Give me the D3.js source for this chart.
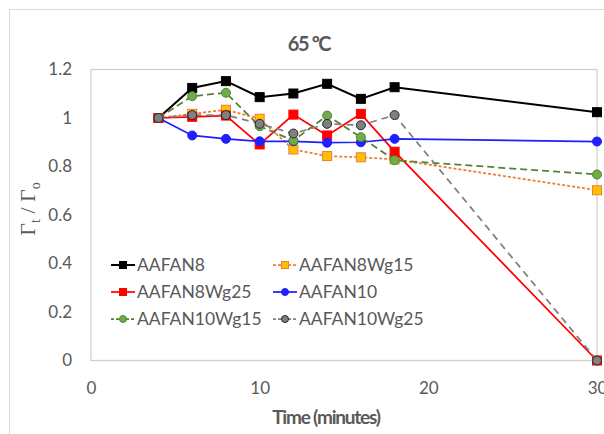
<!DOCTYPE html>
<html>
<head>
<meta charset="utf-8">
<script src="https://cdn.jsdelivr.net/npm/d3@7"></script>
<style>
  html, body { margin: 0; padding: 0; background: #fff; }
  svg { display: block; }
</style>
</head>
<body>
<svg id="chart" width="604" height="434"></svg>
<script>
// Sampling times (minutes)
const times = [4, 6, 8, 10, 12, 14, 16, 18, 30];

// Normalised surface concentration Γt/Γo for each formulation
const seriesNames = ["AAFAN8", "AAFAN8Wg15", "AAFAN8Wg25", "AAFAN10", "AAFAN10Wg15", "AAFAN10Wg25"];
const aafan8      = [1.0, 1.124, 1.152, 1.086, 1.101, 1.141, 1.079, 1.127, 1.024];
const aafan8Wg15  = [1.0, 1.017, 1.034, 0.997, 0.870, 0.843, 0.838, 0.829, 0.702];
const aafan8Wg25  = [1.0, 1.005, 1.010, 0.891, 1.014, 0.928, 1.017, 0.861, 0.0];
const aafan10     = [1.0, 0.928, 0.914, 0.904, 0.904, 0.898, 0.900, 0.914, 0.903];
const aafan10Wg15 = [1.0, 1.090, 1.104, 0.966, 0.907, 1.010, 0.921, 0.826, 0.767];
const aafan10Wg25 = [1.0, 1.012, 1.012, 0.976, 0.936, 0.976, 0.970, 1.012, 0.0];

const xTicks = [0, 10, 20, 30];
const yTicks = [0, 0.2, 0.4, 0.6, 0.8, 1, 1.2];

const seriesValues = [aafan8, aafan8Wg15, aafan8Wg25, aafan10, aafan10Wg15, aafan10Wg25];

// Visual style for each series
const styles = [
  { line: "#000000", fill: "#000000", stroke: "#000000", shape: "square", dash: null, width: 2 },
  { line: "#ED7D31", fill: "#FFC000", stroke: "#ED7D31", shape: "square", dash: "3,2", width: 1.75 },
  { line: "#FF0000", fill: "#FF0000", stroke: "#FF0000", shape: "square", dash: null, width: 1.75 },
  { line: "#1F1FFF", fill: "#1F1FFF", stroke: "#1F1FFF", shape: "circle", dash: null, width: 1.75 },
  { line: "#548235", fill: "#70AD47", stroke: "#548235", shape: "circle", dash: "7,4", width: 1.75 },
  { line: "#808080", fill: "#808080", stroke: "#262626", shape: "circle", dash: "7,5", width: 1.75 }
];

const svg = d3.select("#chart");
const textColor = "#595959";
const font = "Lato, 'Open Sans', sans-serif";

// Chart frame
svg.append("rect")
  .attr("x", 9.5).attr("y", 9.5)
  .attr("width", 620).attr("height", 450)
  .attr("fill", "#fff").attr("stroke", "#D9D9D9");

const plot = { left: 91, right: 597, top: 69.5, bottom: 360.5 };

const x = d3.scaleLinear().domain([0, 30]).range([plot.left, plot.right]);
const y = d3.scaleLinear().domain([0, 1.2]).range([plot.bottom, plot.top]);

// Plot area border
svg.append("rect")
  .attr("x", plot.left).attr("y", plot.top)
  .attr("width", plot.right - plot.left).attr("height", plot.bottom - plot.top)
  .attr("fill", "none").attr("stroke", "#D0D0D0").attr("stroke-width", 1.3);

// Axes (labels only, lines come from the plot border)
const xAxis = d3.axisBottom(x).tickValues(xTicks).tickSize(0).tickPadding(21)
  .tickFormat(d3.format("d"));
const yAxis = d3.axisLeft(y).tickValues(yTicks).tickSize(0).tickPadding(19)
  .tickFormat(d => d === 0 || d === 1 ? String(d) : d3.format(".1f")(d));

const gx = svg.append("g").attr("transform", `translate(0,${plot.bottom})`).call(xAxis);
const gy = svg.append("g").attr("transform", `translate(${plot.left},0)`).call(yAxis);
[gx, gy].forEach(g => {
  g.select(".domain").remove();
  g.selectAll("text").attr("fill", textColor).style("font-family", font).style("font-size", "17px");
});

// Title
svg.append("text")
  .attr("x", 309).attr("y", 51)
  .attr("text-anchor", "middle")
  .attr("fill", textColor)
  .style("font-family", font).style("font-size", "20px").style("font-weight", "bold")
  .style("letter-spacing", "-1.4px")
  .text("65 ºC");

// X axis title
svg.append("text")
  .attr("x", 326).attr("y", 424)
  .attr("text-anchor", "middle")
  .attr("fill", textColor)
  .style("font-family", font).style("font-size", "19px").style("font-weight", "bold")
  .style("letter-spacing", "-1.2px")
  .text("Time (minutes)");

// Y axis title: Γt / Γo
const yt = svg.append("text")
  .attr("transform", "translate(35,209) rotate(-90)")
  .attr("text-anchor", "middle")
  .attr("fill", textColor)
  .style("font-family", "'Liberation Serif', 'DejaVu Serif', serif")
  .style("font-size", "22px");
yt.append("tspan").text("Γ");
yt.append("tspan").attr("dy", 5).style("font-size", "14px").text("t");
yt.append("tspan").attr("dy", -5).text(" / Γ");
yt.append("tspan").attr("dy", 5).style("font-size", "14px").text("o");

// Series lines and markers
const line = d3.line().x(d => x(d.t)).y(d => y(d.v));

function drawMarker(g, st, cx, cy, size) {
  if (st.shape === "square") {
    g.append("rect")
      .attr("x", cx - size / 2).attr("y", cy - size / 2)
      .attr("width", size).attr("height", size)
      .attr("fill", st.fill).attr("stroke", st.stroke).attr("stroke-width", 1);
  } else {
    g.append("circle")
      .attr("cx", cx).attr("cy", cy).attr("r", size / 2)
      .attr("fill", st.fill).attr("stroke", st.stroke).attr("stroke-width", 1);
  }
}

seriesValues.forEach((vals, i) => {
  const st = styles[i];
  const pts = times.map((t, j) => ({ t, v: vals[j] }));
  const g = svg.append("g");
  g.append("path")
    .datum(pts)
    .attr("d", line)
    .attr("fill", "none")
    .attr("stroke", st.line)
    .attr("stroke-width", st.width)
    .attr("stroke-dasharray", st.dash);
  pts.forEach(p => drawMarker(g, st, x(p.t), y(p.v), 9));
});

// Legend
const legendCols = [111, 273];
const legendRows = [265, 292, 319];
seriesNames.forEach((name, i) => {
  const st = styles[i];
  const lx = legendCols[i % 2];
  const ly = legendRows[Math.floor(i / 2)];
  const g = svg.append("g");
  g.append("line")
    .attr("x1", lx).attr("x2", lx + 24)
    .attr("y1", ly).attr("y2", ly)
    .attr("stroke", st.line).attr("stroke-width", st.width)
    .attr("stroke-dasharray", st.dash ? "3,2" : null);
  drawMarker(g, st, lx + 12, ly, 7);
  g.append("text")
    .attr("x", lx + 26).attr("y", ly)
    .attr("dy", "0.35em")
    .attr("fill", textColor)
    .style("font-family", font).style("font-size", "17.5px")
    .text(name);
});
</script>
</body>
</html>
